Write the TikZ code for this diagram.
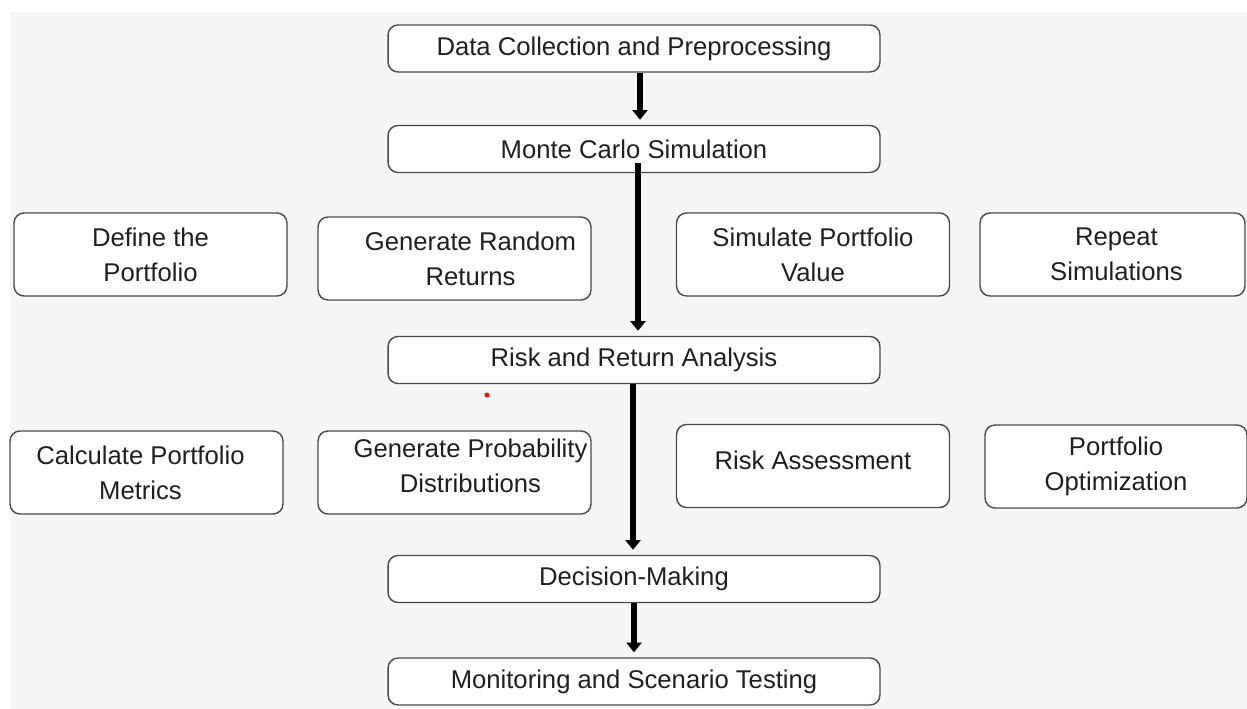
\documentclass[tikz,border=0pt]{standalone}
\usepackage{fontspec}
\setmainfont{Liberation Sans}
\usepackage{tikz}
\usetikzlibrary{arrows.meta}
\definecolor{bggray}{HTML}{F5F5F5}
\definecolor{edgegray}{HTML}{4A4A4A}
\definecolor{inkgray}{HTML}{202020}
\tikzset{stagetext/.style={text=inkgray, inner sep=0pt, font=\fontsize{14.6}{19.8}\selectfont, align=center}}
\tikzset{stage/.style={rectangle, rounded corners=0.2cm, draw=edgegray, line width=0.8pt, fill=white, stagetext, minimum width=9.84cm, minimum height=0.94cm}}
\tikzset{substep/.style={stage, minimum width=5.46cm, minimum height=1.66cm}}
\tikzset{flow/.style={line width=3.4pt, -{Triangle[width=8.5pt,length=5.5pt]}, shorten >=0.1cm}}

\begin{document}
\begin{tikzpicture}[x=0.02cm,y=-0.02cm]
    \useasboundingbox (0,0) rectangle (1247,709);
    \fill[bggray] (10,12) rectangle (1247,709);
    % main column
    \foreach \x/\y/\lab/\tx in {
      634/48.5/data/{Data Collection and Preprocessing},
      634/149/monte/{Monte Carlo Simulation},
      634/360/risk/{Risk and Return Analysis},
      634/579/decide/{Decision-Making},
      634/681.5/monitor/{Monitoring and Scenario Testing}%
    } {
      \node[stage] (\lab) at (\x, \y) {\tx};
    }
    % side steps (text set as a centred label, slightly off centre in some boxes)
    \foreach \x/\y/\w/\dx/\dy/\lab/\tx in {
      150.5/254.5/5.46cm/0cm/0cm/define/{Define the\\Portfolio},
      454.5/258.5/5.46cm/0.32cm/0cm/genret/{Generate Random\\Returns},
      813/254.5/5.46cm/0cm/0cm/simval/{Simulate Portfolio\\Value},
      1112.5/254.5/5.30cm/0.08cm/0cm/repeat/{Repeat\\Simulations},
      146.5/472.5/5.46cm/-0.12cm/0cm/metrics/{Calculate Portfolio\\Metrics},
      454.5/472.5/5.46cm/0.32cm/0.13cm/genprob/{Generate Probability\\Distributions},
      813/466/5.46cm/0cm/0.12cm/assess/{Risk Assessment},
      1116/466.5/5.24cm/0cm/0cm/optim/{Portfolio\\Optimization}%
    } {
      \node[substep, minimum width=\w,
        label={[stagetext, xshift=\dx, yshift=\dy]center:\tx}] (\lab) at (\x, \y) {};
    }
    \begin{scope}[every path/.append style={flow}]
      \draw ([xshift=0.12cm]data.south) -- ([xshift=0.12cm]monte.north);
      \draw ([xshift=0.08cm,yshift=0.2cm]monte.south) -- ([xshift=0.08cm]risk.north);
      \draw ([xshift=-0.02cm]risk.south) -- ([xshift=-0.02cm]decide.north);
      \draw (decide.south) -- (monitor.north);
    \end{scope}
    \fill[red] (487,395) circle (0.05cm);
  \end{tikzpicture}
\end{document}
